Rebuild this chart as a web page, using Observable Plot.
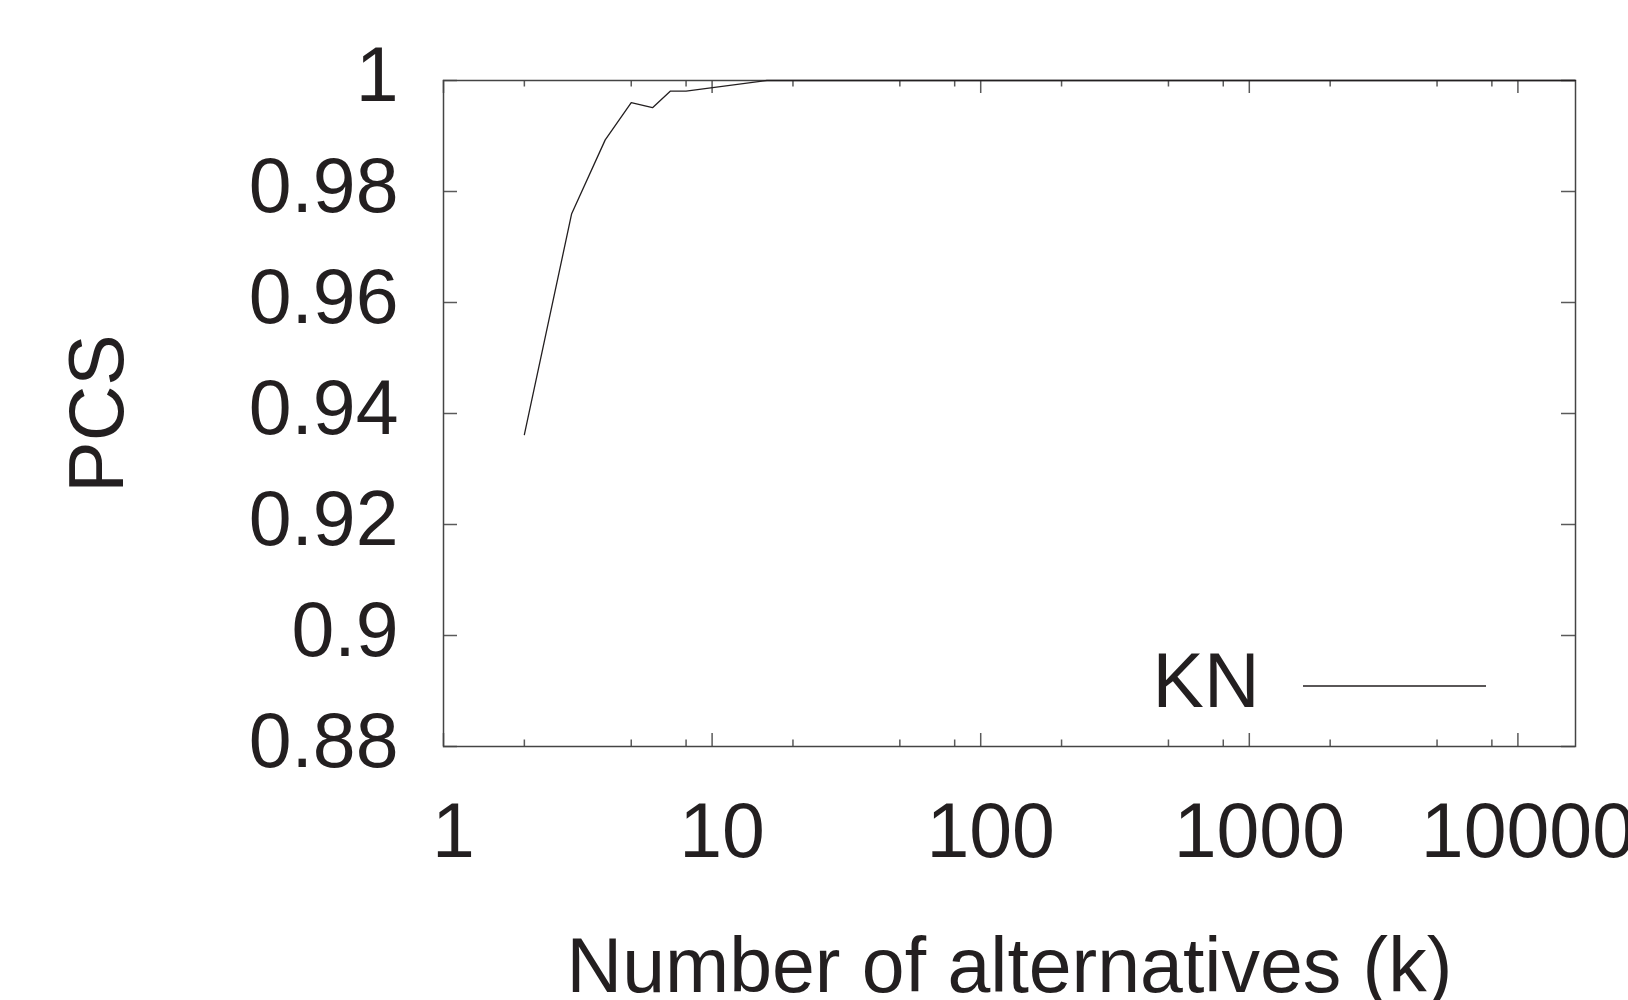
<!DOCTYPE html>
<html>
<head>
<meta charset="utf-8">
<script src="https://cdn.jsdelivr.net/npm/d3@7"></script>
<script src="https://cdn.jsdelivr.net/npm/@observablehq/plot@0.6"></script>
<style>
  html, body { margin: 0; padding: 0; background: #fff; overflow: hidden; }
  svg { display: block; }
</style>
</head>
<body>
<div id="chart"></div>
<script>
// Probability of correct selection for the KN procedure, by number of alternatives
const alternatives = [2, 3, 4, 5, 6, 7, 8, 16, 32, 64, 128, 256, 512, 1024, 2048, 4096, 8192, 16384];
const pcs = [0.9362, 0.9760, 0.9893, 0.9960, 0.9951, 0.9981, 0.9981, 1, 1, 1, 1, 1, 1, 1, 1, 1, 1, 1];
const seriesName = "KN";

// Axis ticks
const decadeTicks = [1, 10, 100, 1000, 10000];
const minorTicks = [2, 5, 8, 20, 50, 80, 200, 500, 800, 2000, 5000, 8000];
const pcsTicks = [0.88, 0.9, 0.92, 0.94, 0.96, 0.98, 1];

const data = alternatives.map((k, i) => ({k, pcs: pcs[i]}));

const ink = "#231f20";
const tickColor = "#5a5a5a";
const fontSize = 77;

// Sample line of the in-plot legend
function legendSample(index, scales, values, dims) {
  const right = dims.width - dims.marginRight;
  const bottom = dims.height - dims.marginBottom;
  const line = d3.create("svg:line")
    .attr("x1", right - 272)
    .attr("x2", right - 89)
    .attr("y1", bottom - 60)
    .attr("y2", bottom - 60)
    .attr("stroke", ink)
    .attr("stroke-width", 1.3);
  return line.node();
}

const frameH = 666;
const frameW = 1132;

const chart = Plot.plot({
  width: 1628,
  height: 1000,
  marginLeft: 443,
  marginRight: 53,
  marginTop: 80,
  marginBottom: 254,
  x: {type: "log", domain: [1, 16384]},
  y: {domain: [0.88, 1]},
  style: {fontFamily: "'Liberation Sans', Arial, Helvetica, sans-serif", color: ink, background: "#fff"},
  marks: [
    // inward ticks on all four sides
    Plot.tickX(decadeTicks, {x: d => d, insetTop: frameH - 13, stroke: tickColor, strokeWidth: 1.5}),
    Plot.tickX(decadeTicks, {x: d => d, insetBottom: frameH - 13, stroke: tickColor, strokeWidth: 1.5}),
    Plot.tickX(minorTicks, {x: d => d, insetTop: frameH - 6.5, stroke: tickColor, strokeWidth: 1.5}),
    Plot.tickX(minorTicks, {x: d => d, insetBottom: frameH - 6.5, stroke: tickColor, strokeWidth: 1.5}),
    Plot.tickY(pcsTicks, {y: d => d, insetRight: frameW - 14, stroke: tickColor, strokeWidth: 1.5}),
    Plot.tickY(pcsTicks, {y: d => d, insetLeft: frameW - 14, stroke: tickColor, strokeWidth: 1.5}),
    Plot.frame({stroke: "#444", strokeWidth: 1.5}),
    Plot.axisX(decadeTicks, {
      tickSize: 0, tickPadding: 56, dx: 10, fontSize,
      tickFormat: d => String(d), label: null, fill: ink
    }),
    Plot.axisY(pcsTicks, {
      tickSize: 0, tickPadding: 45, dy: -4, fontSize,
      tickFormat: d => String(d), label: null, fill: ink
    }),
    Plot.text(["PCS"], {
      text: d => d, frameAnchor: "left", rotate: -90, dx: -321,
      textAnchor: "middle", lineAnchor: "bottom", fontSize, fill: ink
    }),
    Plot.text(["Number of alternatives (k)"], {
      text: d => d, frameAnchor: "bottom", dy: 245,
      lineAnchor: "bottom", fontSize, fill: ink
    }),
    Plot.line(data, {x: "k", y: "pcs", stroke: ink, strokeWidth: 1.3}),
    Plot.text([seriesName], {
      text: d => d, frameAnchor: "bottom-right", dx: -316, dy: -40,
      textAnchor: "end", lineAnchor: "bottom", fontSize, fill: ink
    }),
    legendSample
  ]
});

document.getElementById("chart").appendChild(chart);
</script>
</body>
</html>
